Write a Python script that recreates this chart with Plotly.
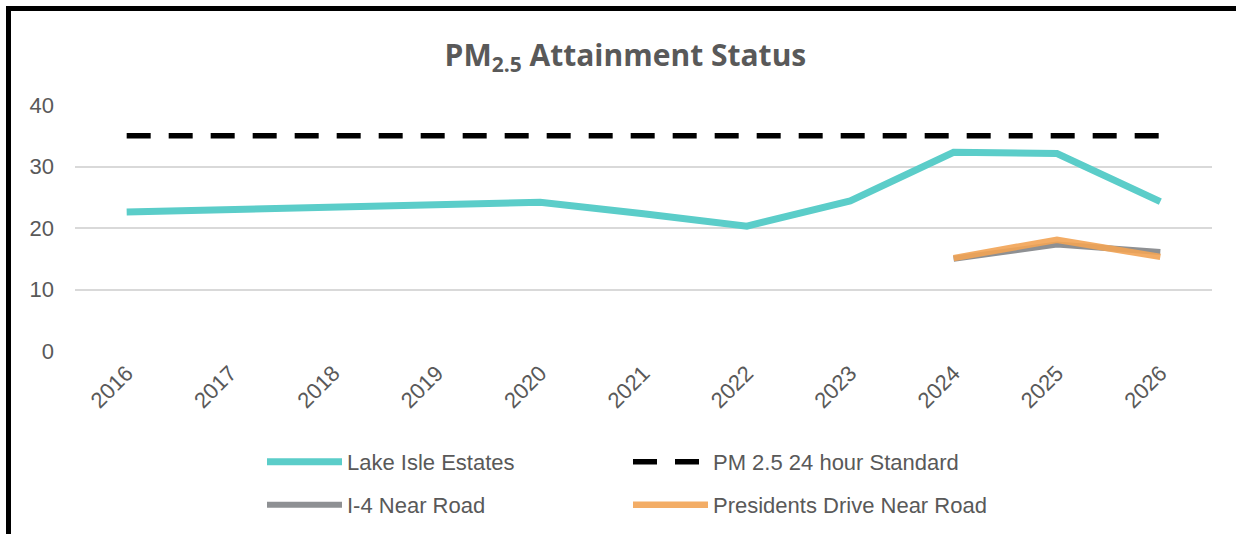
import plotly.graph_objects as go

years = ["2016", "2017", "2018", "2019", "2020", "2021", "2022", "2023", "2024", "2025", "2026"]
lake_isle = [22.6, 23.0, 23.4, 23.8, 24.2, 22.3, 20.3, 24.4, 32.3, 32.1, 24.3]
standard = [35, 35, 35, 35, 35, 35, 35, 35, 35, 35, 35]
i4_near_road = [None, None, None, None, None, None, None, None, 15.0, 17.3, 16.1]
presidents = [None, None, None, None, None, None, None, None, 15.1, 18.1, 15.3]
y_ticks = [0, 10, 20, 30, 40]

W, H = 1236, 534
ML, MR, MT, MB = 75, 24, 105, 183
PW, PH = W - ML - MR, H - MT - MB

def px_x(p):
    return (p - ML) / PW

def px_y(p):
    return (H - MB - p) / PH

TXT = "#595959"
FONT = "Liberation Sans, Arial, sans-serif"

fig = go.Figure()
fig.add_trace(go.Scatter(x=years, y=lake_isle, mode="lines", name="Lake Isle Estates",
                         line=dict(color="#5BCDC9", width=7), legend="legend"))
fig.add_trace(go.Scatter(x=years, y=standard, mode="lines", name="PM 2.5 24 hour Standard",
                         line=dict(color="#000000", width=5.5, dash="24px,18px"), legend="legend"))
fig.add_trace(go.Scatter(x=years, y=i4_near_road, mode="lines", name="I-4 Near Road",
                         line=dict(color="#8E9093", width=6), legend="legend2"))
fig.add_trace(go.Scatter(x=years, y=presidents, mode="lines", name="Presidents Drive Near Road",
                         line=dict(color="#F2A455", width=6.5), opacity=0.9, legend="legend2"))

border = dict(color="#000000", width=5)
fig.add_shape(type="line", xref="paper", yref="paper",
              x0=px_x(8.5), x1=px_x(8.5), y0=px_y(6), y1=px_y(H + 5), line=border)
fig.add_shape(type="line", xref="paper", yref="paper",
              x0=px_x(6), x1=px_x(W + 5), y0=px_y(8.5), y1=px_y(8.5), line=border)

legend_common = dict(orientation="h", xanchor="left", yanchor="middle",
                     entrywidth=276, entrywidthmode="pixels", itemwidth=75,
                     font=dict(family=FONT, size=22, color=TXT), bgcolor="rgba(0,0,0,0)")

fig.update_layout(
    width=W, height=H,
    margin=dict(l=ML, r=MR, t=MT, b=MB, autoexpand=False),
    paper_bgcolor="white", plot_bgcolor="white",
    title=dict(text="PM<sub>2.5</sub> Attainment Status", x=0.506, xanchor="center",
               xref="container", y=1 - 55 / H, yanchor="middle", yref="container",
               font=dict(family="Open Sans, sans-serif", size=30, color=TXT, weight="bold")),
    xaxis=dict(type="category", range=[-0.5, 10.5], tickangle=-45, showgrid=False,
               showline=False, ticks="", ticklabelstandoff=4,
               tickfont=dict(family=FONT, size=22, color=TXT)),
    yaxis=dict(range=[0, 40], tickvals=y_ticks, showgrid=True, gridcolor="#D9D9D9",
               gridwidth=1.5, zeroline=False, showline=False, ticks="",
               ticklabelstandoff=20,
               tickfont=dict(family=FONT, size=22, color=TXT)),
    showlegend=True,
    legend=dict(x=px_x(262), y=px_y(462), **legend_common),
    legend2=dict(x=px_x(262), y=px_y(505), **legend_common),
)

fig.write_html("out.html", config={"displayModeBar": False},
               post_script="document.body.style.margin='0';document.body.style.padding='0';")
